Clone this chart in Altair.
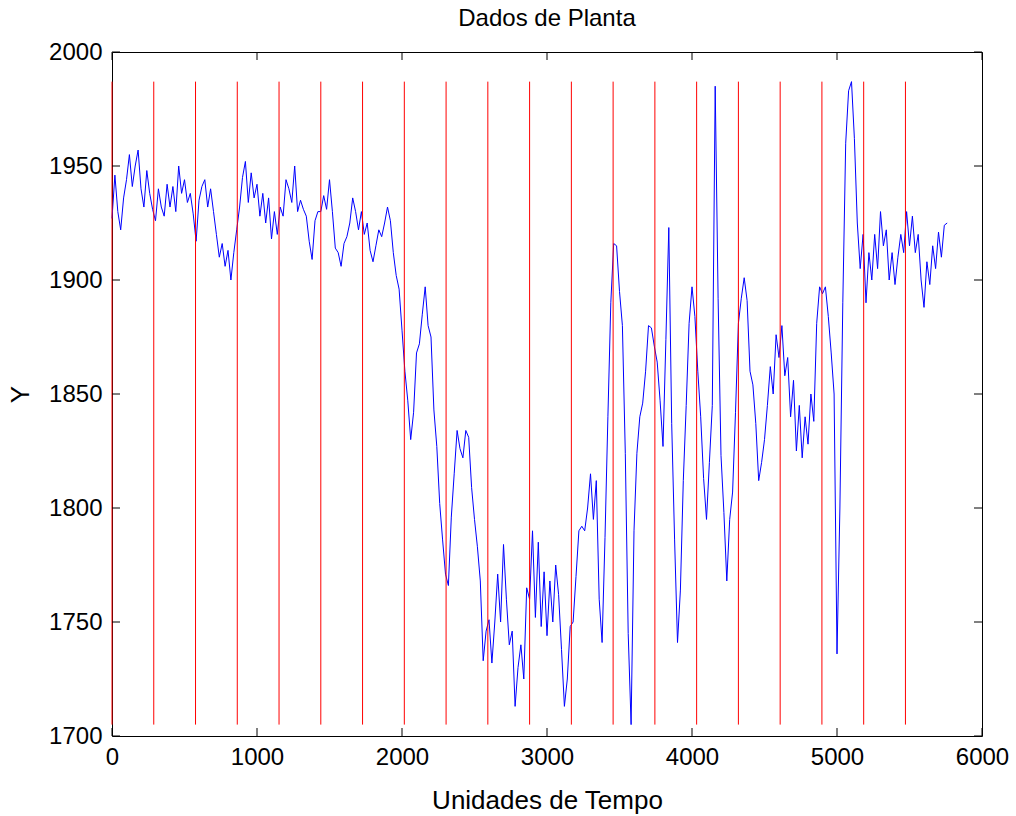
import altair as alt
import pandas as pd

# time grid (sampling every 20 time units) and plant output
tempo = list(range(0, 5761, 20))
saida = [
    # 0 - 1220
    1927, 1946, 1930, 1922, 1936, 1944, 1955, 1941, 1950, 1957,
    1940, 1932, 1948, 1938, 1931, 1926, 1940, 1932, 1928, 1942,
    1932, 1941, 1930, 1950, 1938, 1944, 1934, 1938, 1929, 1917,
    1935, 1941, 1944, 1932, 1940, 1930, 1920, 1910, 1916, 1906,
    1913, 1900, 1912, 1922, 1932, 1945, 1952, 1934, 1947, 1936,
    1942, 1928, 1938, 1925, 1936, 1918, 1930, 1920, 1932, 1928,
    1944, 1940,
    # 1240 - 2460
    1934, 1950, 1930, 1935, 1931, 1928, 1917, 1909, 1926, 1930,
    1930, 1937, 1931, 1944, 1930, 1914, 1912, 1906, 1916, 1919,
    1925, 1936, 1930, 1922, 1930, 1920, 1925, 1913, 1908, 1915,
    1922, 1919, 1925, 1932, 1926, 1912, 1902, 1896, 1878, 1860,
    1847, 1830, 1842, 1868, 1872, 1885, 1897, 1880, 1875, 1843,
    1827, 1802, 1786, 1771, 1766, 1796, 1815, 1834, 1826, 1822,
    1834, 1831,
    # 2480 - 3700
    1809, 1795, 1783, 1768, 1733, 1746, 1751, 1732, 1750, 1771,
    1750, 1784, 1760, 1740, 1746, 1713, 1730, 1740, 1725, 1765,
    1760, 1790, 1752, 1785, 1748, 1772, 1744, 1768, 1750, 1775,
    1762, 1738, 1713, 1725, 1748, 1750, 1770, 1790, 1792, 1790,
    1800, 1815, 1795, 1812, 1760, 1741, 1787, 1840, 1890, 1916,
    1915, 1895, 1880, 1824, 1745, 1705, 1790, 1824, 1840, 1846,
    1860, 1880,
    # 3720 - 4940
    1879, 1871, 1864, 1847, 1827, 1874, 1923, 1837, 1786, 1741,
    1764, 1812, 1845, 1881, 1897, 1884, 1860, 1840, 1813, 1795,
    1820, 1845, 1985, 1892, 1823, 1798, 1768, 1795, 1807, 1842,
    1881, 1892, 1901, 1891, 1860, 1854, 1837, 1812, 1820, 1830,
    1845, 1862, 1850, 1876, 1866, 1880, 1858, 1866, 1840, 1856,
    1825, 1845, 1822, 1840, 1828, 1850, 1838, 1881, 1897, 1894,
    1897, 1884,
    # 4960 - 5760
    1868, 1850, 1736, 1800, 1890, 1960, 1983, 1987, 1962, 1925,
    1905, 1920, 1890, 1912, 1900, 1920, 1905, 1930, 1915, 1922,
    1900, 1912, 1898, 1910, 1920, 1912, 1930, 1915, 1928, 1912,
    1920, 1900, 1888, 1908, 1898, 1915, 1905, 1921, 1910, 1924,
    1925,
]

# instants of the vertical (red) markers
marcas = [0, 288, 576, 864, 1152, 1440, 1728, 2016, 2304, 2592,
          2880, 3168, 3456, 3744, 4032, 4320, 4608, 4896, 5184, 5472]

x_ticks = [0, 1000, 2000, 3000, 4000, 5000, 6000]
y_ticks = [1700, 1750, 1800, 1850, 1900, 1950, 2000]

W, H = 870, 684
FONT = "Liberation Sans"

df = pd.DataFrame({"t": tempo, "y": saida})
ymin, ymax = min(saida), max(saida)
dm = pd.DataFrame({"t": marcas, "y0": [ymin] * len(marcas), "y1": [ymax] * len(marcas)})
dxt = pd.DataFrame({"t": x_ticks})
dyt = pd.DataFrame({"y": y_ticks})

xs = alt.Scale(domain=[0, 6000], nice=False, zero=False)
ys = alt.Scale(domain=[1700, 2000], nice=False, zero=False)

common = dict(domain=False, ticks=False, grid=False, labelFontSize=24,
              titleFontSize=26, labelFont=FONT, titleFont=FONT,
              titleFontWeight="normal", labelColor="black", titleColor="black",
              labelFlush=False, format="d", titleBaseline="middle",
              titleAlign="center")
xaxis = alt.Axis(values=x_ticks, title="Unidades de Tempo", labelPadding=9,
                 titleX=W / 2, titleY=64, **common)
yaxis = alt.Axis(values=y_ticks, title="Y", labelPadding=10, titleX=-92,
                 titleY=H / 2, titleAngle=-90, **common)

linha = alt.Chart(df).mark_line(color="#0000ff", strokeWidth=1).encode(
    x=alt.X("t:Q", scale=xs, axis=xaxis),
    y=alt.Y("y:Q", scale=ys, axis=yaxis),
)

verticais = alt.Chart(dm).mark_rule(color="#ff0000", strokeWidth=1).encode(
    x=alt.X("t:Q", scale=xs, axis=xaxis),
    y=alt.Y("y0:Q", scale=ys, axis=yaxis),
    y2="y1:Q",
)

TL = 8
tick_b = alt.Chart(dxt).mark_rule(color="black", strokeWidth=1).encode(
    x=alt.X("t:Q", scale=xs, axis=xaxis), y=alt.value(H), y2=alt.value(H - TL))
tick_t = alt.Chart(dxt).mark_rule(color="black", strokeWidth=1).encode(
    x=alt.X("t:Q", scale=xs, axis=xaxis), y=alt.value(0), y2=alt.value(TL))
tick_l = alt.Chart(dyt).mark_rule(color="black", strokeWidth=1).encode(
    y=alt.Y("y:Q", scale=ys, axis=yaxis), x=alt.value(0), x2=alt.value(TL))
tick_r = alt.Chart(dyt).mark_rule(color="black", strokeWidth=1).encode(
    y=alt.Y("y:Q", scale=ys, axis=yaxis), x=alt.value(W), x2=alt.value(W - TL))

chart = alt.layer(linha, verticais, tick_b, tick_t, tick_l, tick_r).properties(
    width=W,
    height=H,
    background="white",
    title=alt.TitleParams("Dados de Planta", fontSize=24, font=FONT, fontWeight="normal",
                          color="black", anchor="middle", offset=9),
    autosize=alt.AutoSizeParams(type="none"),
    padding={"left": 112, "top": 52, "right": 34, "bottom": 80},
).configure_view(stroke="black", strokeWidth=1)

chart.save("out.html", embed_options={"renderer": "svg", "actions": False})
